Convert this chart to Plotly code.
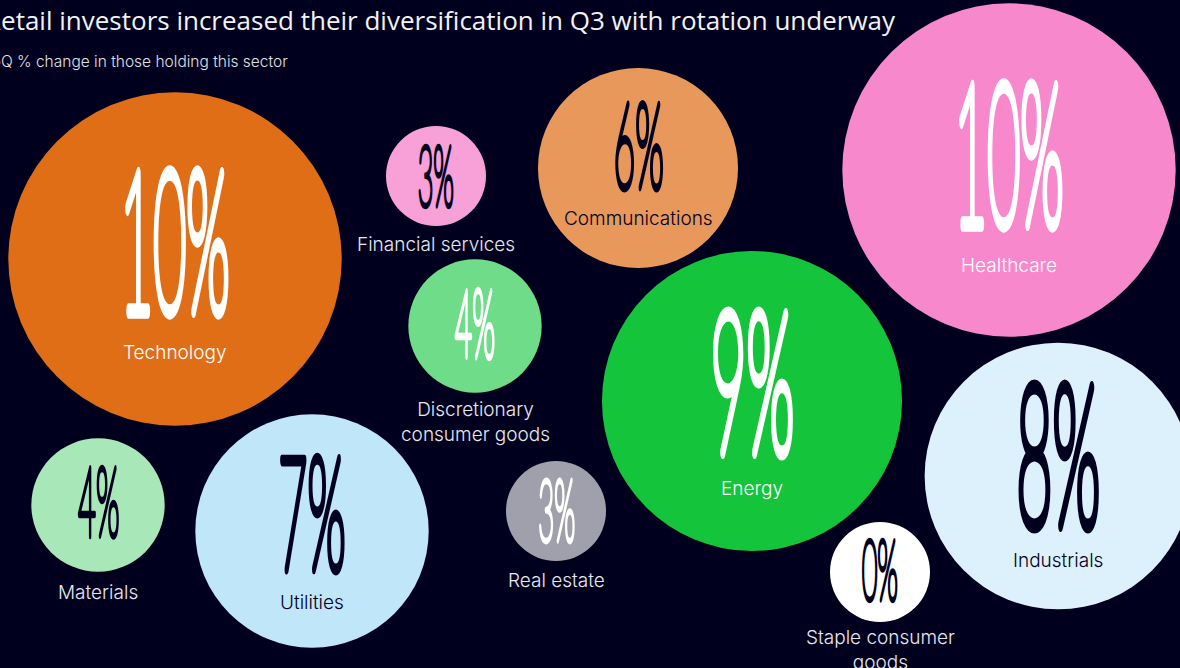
import plotly.graph_objects as go

# ---------------- data ----------------
sectors = ["Technology", "Financial services", "Communications", "Healthcare",
           "Discretionary<br>consumer goods", "Energy", "Utilities", "Real estate",
           "Industrials", "Materials", "Staple consumer<br>goods"]
pct_change = [10, 3, 6, 10, 4, 9, 7, 3, 8, 4, 0]

title_text = "Retail investors increased their diversification in Q3 with rotation underway"
subtitle_text = "QoQ % change in those holding this sector"

# ---------------- layout / style ----------------
bubble_x = [175, 436, 638, 1009, 475, 752, 312, 556, 1058, 98, 880]
bubble_y = [259, 176, 168, 170, 326, 401, 531, 511, 476, 505, 572]
bubble_colors = ["#E06E16", "#F8A0D8", "#E8985A", "#F888CC", "#6EDC88", "#14C43A",
                 "#C0E6FA", "#A0A0AC", "#DDF1FD", "#A8E8B8", "#FFFFFF"]
number_colors = ["#FFFFFF", "#00001E", "#00001E", "#FFFFFF", "#FFFFFF", "#FFFFFF",
                 "#00001E", "#FFFFFF", "#00001E", "#00001E", "#00001E"]
number_y = [244, 176, 147, 157, 324, 385, 515, 511, 458, 503, 570]
number_cap = [150, 65, 90, 150, 72, 150, 120, 66, 150, 74, 65]
label_y = [352, 244, 218, 265, 422, 488, 602, 580, 560, 592, 650]
label_colors = ["#FFFFFF", "#E8E8F0", "#00001E", "#FFFFFF", "#E8E8F0", "#FFFFFF",
                "#00001E", "#E8E8F0", "#00001E", "#E8E8F0", "#E8E8F0"]

BG = "#00001E"
W, H = 1180, 668
PX_PER_PCT = 16.67      # bubble radius per percentage point
MIN_PCT_SIZE = 3        # smallest bubble size
CAP_RATIO = 0.7165      # digit height / font size of the number font

diameters = [2 * PX_PER_PCT * max(v, MIN_PCT_SIZE) for v in pct_change]

fig = go.Figure()
fig.add_trace(go.Scatter(
    x=bubble_x, y=bubble_y, mode="markers",
    marker=dict(size=diameters, sizemode="diameter", color=bubble_colors,
                line=dict(width=0), opacity=1),
    hoverinfo="skip", showlegend=False,
))

annotations = []
for i, v in enumerate(pct_change):
    fs = number_cap[i] / CAP_RATIO / 1.07
    annotations.append(dict(
        x=bubble_x[i], y=number_y[i], xref="x", yref="y",
        text=f"{v}%", showarrow=False, xanchor="center", yanchor="middle",
        yshift=0.04 * fs,
        font=dict(family="Lato", size=fs, color=number_colors[i], weight=100),
    ))
for i, name in enumerate(sectors):
    annotations.append(dict(
        x=bubble_x[i], y=label_y[i], xref="x", yref="y",
        text=name, showarrow=False, xanchor="center", yanchor="middle",
        font=dict(family="Inter", size=19, color=label_colors[i], weight=300),
    ))

annotations.append(dict(
    x=-17 / W, y=1 - 20 / H, xref="paper", yref="paper", text=title_text,
    showarrow=False, xanchor="left", yanchor="middle",
    font=dict(family="Open Sans", size=26, color="#F2F2F6"),
))
annotations.append(dict(
    x=-22 / W, y=1 - 61 / H, xref="paper", yref="paper", text=subtitle_text,
    showarrow=False, xanchor="left", yanchor="middle",
    font=dict(family="Inter", size=15.5, color="#E0E0E8", weight=300),
))

fig.update_layout(
    width=W, height=H,
    margin=dict(l=0, r=0, t=0, b=0, pad=0),
    paper_bgcolor=BG, plot_bgcolor=BG,
    xaxis=dict(range=[0, W], visible=False, fixedrange=True),
    yaxis=dict(range=[H, 0], visible=False, fixedrange=True),
    annotations=annotations,
    showlegend=False,
)

post_js = """
document.body.style.margin = '0';
document.body.style.background = '#00001E';
var gd = document.getElementById('{plot_id}');
var CAP = %CAP%;
function squeeze(){
  var ts = gd.querySelectorAll('text.annotation-text');
  ts.forEach(function(t){
    var s = (t.textContent || '').trim();
    if(!/^[0-9]+%$/.test(s)) return;
    t.removeAttribute('transform');
    var fs = parseFloat(t.style.fontSize);
    var cap = fs * CAP;
    var target = cap * 1.07 * (s.length >= 3 ? 0.73 : 0.56);
    var b = t.getBBox();
    if(!b.width) return;
    var sx = target / b.width;
    var cx = b.x + b.width / 2, cy = b.y + b.height / 2;
    t.setAttribute('transform', 'translate(' + cx + ',' + cy + ') scale(' + sx + ',1) translate(' + (-cx) + ',' + (-cy) + ')');
    var col = t.style.fill;
    t.style.stroke = col;
    t.style.strokeWidth = (cap * 0.07) + 'px';
    t.style.strokeLinejoin = 'round';
    t.setAttribute('vector-effect', 'non-scaling-stroke');
    t.style.vectorEffect = 'non-scaling-stroke';
  });
}
squeeze();
gd.on('plotly_afterplot', squeeze);
""".replace("%CAP%", str(CAP_RATIO))

fig.write_html("out.html", config={"displayModeBar": False, "staticPlot": True},
               post_script=post_js)
